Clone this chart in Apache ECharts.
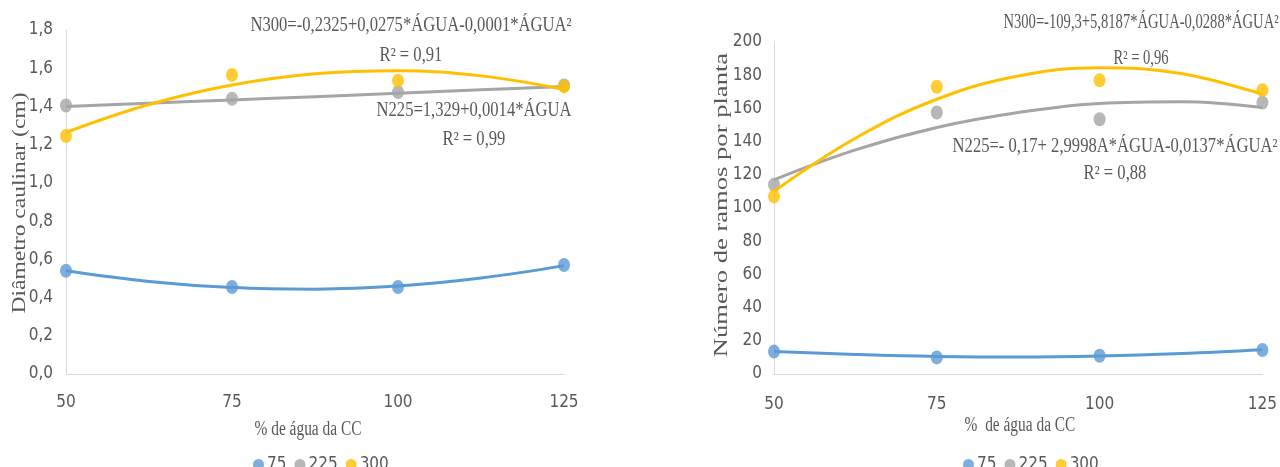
<!DOCTYPE html>
<html>
<head>
<meta charset="utf-8">
<script src="https://cdn.jsdelivr.net/npm/echarts@6/dist/echarts.min.js"></script>
<style>
html,body{margin:0;padding:0;background:#fff;}
#chart{width:1280px;height:467px;}
</style>
</head>
<body>
<div id="chart"></div>
<script>
// ---- data ----
const water = [50, 75, 100, 125];
const trendX = [50, 62.5, 75, 87.5, 100, 112.5, 125];
const seriesNames = ['75', '225', '300'];
const xTicks = [50, 75, 100, 125];

// Left: Diâmetro caulinar (cm)
const diam75 = [0.54, 0.455, 0.455, 0.57];
const diam225 = [1.405, 1.44, 1.475, 1.51];
const diam300 = [1.245, 1.565, 1.535, 1.505];
const diamTrend75 = [0.54, 0.484, 0.452, 0.444, 0.46, 0.502, 0.567];
const diamTrend225 = [1.40, 1.417, 1.434, 1.451, 1.469, 1.487, 1.505];
const diamTrend300 = [1.264, 1.41, 1.512, 1.571, 1.587, 1.56, 1.489];

// Right: Número de ramos por planta
const ramos75 = [13.5, 10, 11, 14.5];
const ramos225 = [114, 157.5, 153.5, 163.5];
const ramos300 = [107, 173, 177, 171];
const ramosTrend75 = [13.5, 11.8, 10.6, 10.2, 10.8, 12.3, 14.6];
const ramosTrend225 = [117, 135, 148.5, 157.5, 163, 164, 160.5];
const ramosTrend300 = [110, 142, 165.5, 179.5, 184.5, 181, 168.5];

// equation texts
const eqLeft300 = 'N300=-0,2325+0,0275*ÁGUA-0,0001*ÁGUA²';
const r2Left300 = 'R² = 0,91';
const eqLeft225 = 'N225=1,329+0,0014*ÁGUA';
const r2Left225 = 'R² = 0,99';
const eqRight300 = 'N300=-109,3+5,8187*ÁGUA-0,0288*ÁGUA²';
const r2Right300 = 'R² = 0,96';
const eqRight225 = 'N225=- 0,17+ 2,9998A*ÁGUA-0,0137*ÁGUA²';
const r2Right225 = 'R² = 0,88';

// ---- style ----
const colors = {'75': '#5B9BD5', '225': '#A5A5A5', '300': '#FFC000'};
const textGray = '#595959';
const axisGray = '#D9D9D9';
const narrow = '"Liberation Sans Narrow", "DejaVu Sans Condensed", "Liberation Sans", sans-serif';
const serif = '"Liberation Serif", "DejaVu Serif", serif';

const pairs = arr => arr.map((v, i) => [water[i], v]);
const tpairs = arr => arr.map((v, i) => [trendX[i], v]);

function makeSeries(idx, pts, trends) {
  const out = [];
  seriesNames.forEach((n, k) => {
    out.push({
      name: n + ' trend', type: 'line', xAxisIndex: idx, yAxisIndex: idx,
      data: tpairs(trends[k]), smooth: 0.4, showSymbol: false, silent: true,
      lineStyle: {color: colors[n], width: 3}, z: 2 + k * 2
    });
    out.push({
      name: n, type: 'scatter', xAxisIndex: idx, yAxisIndex: idx,
      data: pairs(pts[k]), symbol: 'circle', symbolSize: [12, 14],
      itemStyle: {color: colors[n]}, z: 3 + k * 2
    });
  });
  return out;
}

function xAxis(idx, margin) {
  return {
    type: 'value', gridIndex: idx, min: 50, max: 125, interval: 25,
    axisLine: {show: true, lineStyle: {color: axisGray, width: 1}},
    axisTick: {show: false}, splitLine: {show: false},
    axisLabel: {color: textGray, fontSize: 17, fontFamily: narrow, margin: margin,
      customValues: xTicks}
  };
}

function txt(text, x, y, size, sx, rot) {
  return {
    type: 'text', x: x, y: y, scaleX: sx, rotation: rot || 0, silent: true,
    style: {text: text, font: size + 'px ' + serif, fill: textGray,
      textAlign: 'center', textVerticalAlign: 'middle'}
  };
}

const chart = echarts.init(document.getElementById('chart'));
chart.setOption({
  backgroundColor: '#fff',
  animation: false,
  grid: [
    {left: 66, right: 716, top: 30, bottom: 93},
    {left: 774, right: 15, top: 42, bottom: 93}
  ],
  xAxis: [xAxis(0, 20), xAxis(1, 22)],
  yAxis: [
    {type: 'value', gridIndex: 0, min: 0, max: 1.8, interval: 0.2,
      axisLine: {show: true, lineStyle: {color: axisGray}}, axisTick: {show: false},
      splitLine: {show: false},
      axisLabel: {color: textGray, fontSize: 17, fontFamily: narrow, margin: 13,
        formatter: v => v.toFixed(1).replace('.', ',')}},
    {type: 'value', gridIndex: 1, min: 0, max: 200, interval: 20,
      axisLine: {show: true, lineStyle: {color: axisGray}}, axisTick: {show: false},
      splitLine: {show: false},
      axisLabel: {color: textGray, fontSize: 17, fontFamily: narrow, margin: 12}}
  ],
  legend: [
    {data: seriesNames, left: 248, top: 451, icon: 'circle', itemWidth: 11, itemHeight: 11,
      itemGap: 8, textStyle: {color: textGray, fontSize: 17, fontFamily: narrow, padding: [0, 0, 0, -2]}},
    {data: seriesNames, left: 958, top: 451, icon: 'circle', itemWidth: 11, itemHeight: 11,
      itemGap: 8, textStyle: {color: textGray, fontSize: 17, fontFamily: narrow, padding: [0, 0, 0, -2]}}
  ],
  series: [
    ...makeSeries(0, [diam75, diam225, diam300], [diamTrend75, diamTrend225, diamTrend300]),
    ...makeSeries(1, [ramos75, ramos225, ramos300], [ramosTrend75, ramosTrend225, ramosTrend300])
  ],
  graphic: [
    txt(eqLeft300, 411, 26, 20, 0.83),
    txt(r2Left300, 411, 56, 20, 0.83),
    txt(eqLeft225, 474, 111, 20, 0.83),
    txt(r2Left225, 474, 140, 20, 0.83),
    txt(eqRight300, 1141, 23, 20, 0.73),
    txt(r2Right300, 1141, 59, 20, 0.73),
    txt(eqRight225, 1115, 147, 20, 0.83),
    txt(r2Right225, 1115, 174, 20, 0.83),
    txt('% de água da CC', 308, 430, 20, 0.77),
    txt('%  de água da CC', 1020, 426, 20, 0.77),
    txt('Diâmetro caulinar (cm)', 20, 203, 19, 1.24, Math.PI / 2),
    txt('Número de ramos por planta', 722, 205, 19, 1.4, Math.PI / 2)
  ]
});
</script>
</body>
</html>
